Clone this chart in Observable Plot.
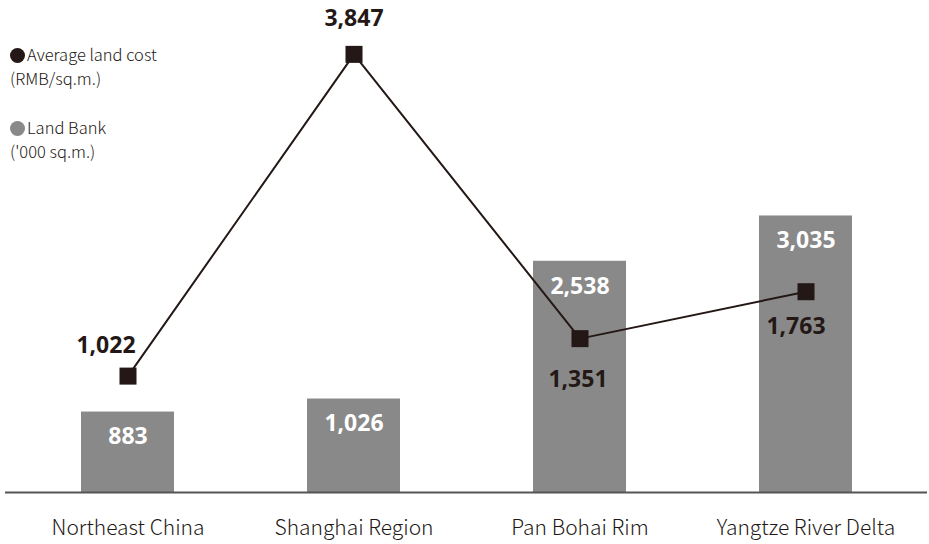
<!DOCTYPE html>
<html>
<head>
<meta charset="utf-8">
<script src="https://cdn.jsdelivr.net/npm/d3@7"></script>
<script src="https://cdn.jsdelivr.net/npm/@observablehq/plot@0.6"></script>
<style>
  body { margin: 0; background: #fff; }
  #wrap { position: relative; width: 929px; height: 544px; font-family: "Noto Sans", sans-serif; }
  .legend { position: absolute; left: 10px; font-family: "Noto Sans CJK JP", "Noto Sans", sans-serif; font-weight: 300; font-size: 16.5px; line-height: 24px; color: #231815; }
  .legend .dot { display: inline-block; width: 15px; height: 15px; border-radius: 50%; margin-right: 2px; vertical-align: -2px; }
</style>
</head>
<body>
<div id="wrap">
  <div class="legend" style="top:42px"><span class="dot" style="background:#231815"></span>Average land cost<br>(RMB/sq.m.)</div>
  <div class="legend" style="top:115px"><span class="dot" style="background:#898989"></span>Land Bank<br>('000 sq.m.)</div>
</div>
<script>
// Regions and their figures
const regions = ["Northeast China", "Shanghai Region", "Pan Bohai Rim", "Yangtze River Delta"];
const landBank = [883, 1026, 2538, 3035];        // '000 sq.m. (bars)
const avgLandCost = [1022, 3847, 1351, 1763];    // RMB/sq.m. (line)

// Bars and line share one vertical axis; the land bank is drawn on a
// slightly compressed scale relative to the land cost.
const bankScale = 0.8;

const rows = regions.map((region, i) => ({
  region,
  bank: landBank[i],
  cost: avgLandCost[i]
}));

const fmt = d3.format(",");
const ink = "#231815";
const barFill = "#898989";

// Where each cost label sits relative to its marker
const costLabelOffset = {
  "Northeast China": {dx: -22, dy: -30},
  "Shanghai Region": {dx: 0, dy: -36},
  "Pan Bohai Rim": {dx: -2, dy: 41},
  "Yangtze River Delta": {dx: -10, dy: 35}
};

const costLabels = Object.entries(costLabelOffset).map(([region, off]) =>
  Plot.text(rows.filter(d => d.region === region), {
    x: "region", y: "cost", text: d => fmt(d.cost),
    dx: off.dx, dy: off.dy,
    fill: ink, fontSize: 23, fontWeight: 700
  })
);

const chart = Plot.plot({
  width: 929,
  height: 544,
  marginTop: 0,
  marginBottom: 52,
  marginLeft: 5,
  marginRight: 2,
  style: {fontFamily: "'Noto Sans', sans-serif", background: "transparent"},
  x: {domain: regions, paddingInner: 0.59, paddingOuter: 0.33, label: null, tickSize: 0, tickPadding: 29},
  y: {domain: [0, 4320], axis: null},
  marks: [
    Plot.barY(rows, {x: "region", y: d => d.bank * bankScale, fill: barFill}),
    Plot.ruleY([0], {stroke: "#555", strokeWidth: 2}),
    Plot.text(rows, {
      x: "region", y: d => d.bank * bankScale, text: d => fmt(d.bank),
      dy: 25, fill: "#fff", fontSize: 23, fontWeight: 700
    }),
    Plot.line(rows, {x: "region", y: "cost", stroke: ink, strokeWidth: 2}),
    Plot.dot(rows, {x: "region", y: "cost", symbol: "square", r: 9.6, fill: ink, stroke: null}),
    ...costLabels,
    Plot.axisX({tickSize: 0, tickPadding: 28, fontSize: 21, fill: ink, label: null,
      fontFamily: "'Noto Sans CJK JP', 'Noto Sans', sans-serif", fontWeight: 300})
  ]
});

document.getElementById("wrap").prepend(chart);
chart.style.position = "absolute";
chart.style.left = "0";
chart.style.top = "0";
</script>
</body>
</html>
